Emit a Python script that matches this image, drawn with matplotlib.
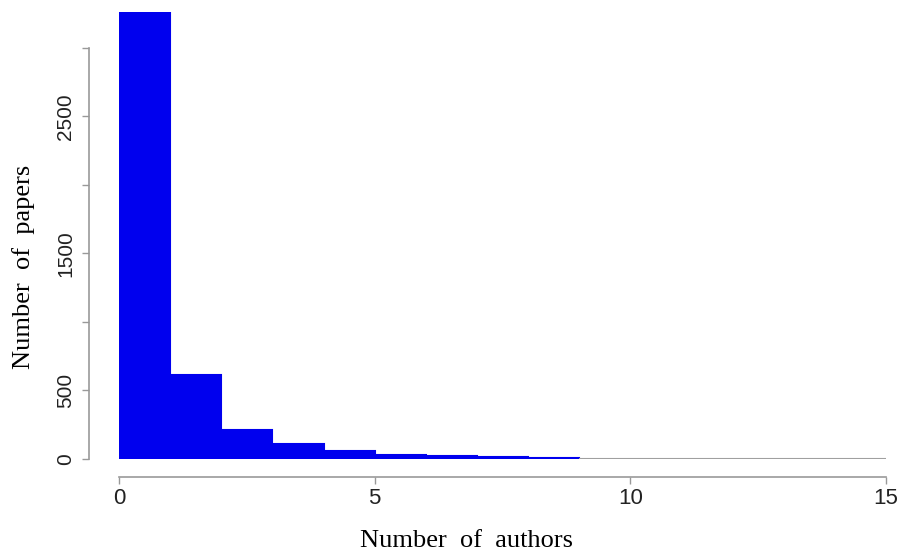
import matplotlib
matplotlib.use('Agg')
import matplotlib.pyplot as plt
import numpy as np

# histogram of authors per paper (bins of width 1, 0..15)
bin_edges = list(range(0, 16))
counts = [3259, 611, 215, 106, 55, 31, 21, 12, 6, 0, 0, 0, 0, 0, 0]
y_ticks = [0, 500, 1000, 1500, 2000, 2500, 3000]
y_tick_labels = ['0', '500', '', '1500', '', '2500', '']
x_ticks = [0, 5, 10, 15]


def main():
    fig = plt.figure(figsize=(9.02, 5.59), dpi=100)
    W, H = 902, 559
    left, right, bottom, top = 119, 886, 559 - 459, 559 - 12
    ax = fig.add_axes([left / W, bottom / H, (right - left) / W, (top - bottom) / H])

    lefts = np.array(bin_edges[:-1])
    widths = np.diff(bin_edges)
    edge = ['#0000ee' if c > 0 else '#a0a0a0' for c in counts]
    ax.bar(lefts, counts, width=widths, align='edge', color='#0000ee',
           edgecolor=edge, linewidth=1.5)

    ax.set_xlim(0, 15)
    ax.set_ylim(0, 3260)

    for s in ['top', 'right']:
        ax.spines[s].set_visible(False)
    ax.spines['left'].set_position(('outward', 30 * 72 / 100))
    ax.spines['bottom'].set_position(('outward', 18 * 72 / 100))
    ax.spines['left'].set_bounds(0, 3000)
    ax.spines['bottom'].set_bounds(0, 15)
    for s in ['left', 'bottom']:
        ax.spines[s].set_color('#999999')
        ax.spines[s].set_linewidth(1.2)

    ax.set_yticks(y_ticks)
    ax.set_yticklabels(y_tick_labels, rotation=90, va='center',
                       family='Liberation Sans', fontsize=15, color='#222222')
    ax.set_xticks(x_ticks)
    ax.set_xticklabels([str(t) for t in x_ticks], family='Liberation Sans',
                       fontsize=16, color='#222222')
    ax.tick_params(axis='both', direction='out', length=5, color='#999999', width=1)
    ax.tick_params(axis='y', pad=5)
    ax.tick_params(axis='x', pad=3)

    fig.text(467 / W, 1 - 541 / H, 'Number  of  authors', ha='center', va='center',
             family='Liberation Serif', fontsize=19)
    fig.text(24 / W, 1 - 267 / H, 'Number  of  papers', ha='center', va='center',
             rotation=90, family='Liberation Serif', fontsize=19)

    fig.savefig('out.png', dpi=100)


if __name__ == '__main__':
    main()
